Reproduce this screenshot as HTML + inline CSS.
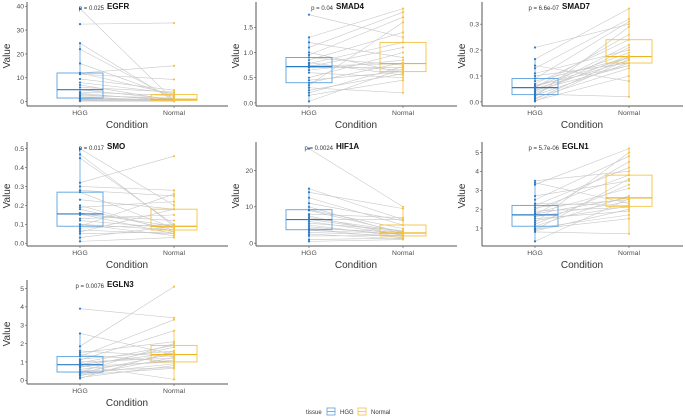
<!DOCTYPE html>
<html><head><meta charset="utf-8">
<style>
html,body{margin:0;padding:0;background:#fff;}
svg{display:block;font-family:"Liberation Sans",sans-serif;}
</style></head>
<body>
<svg id="chart" width="685" height="419" viewBox="0 0 685 419">
<g id="panels"></g>
<g>
  <text x="306" y="414" font-size="6" fill="#333">tissue</text>
  <g>
    <rect x="327" y="408" width="8" height="7" fill="none" stroke="#5aa0dc" stroke-width="0.8"/>
    <line x1="327" y1="411.5" x2="335" y2="411.5" stroke="#5aa0dc" stroke-width="0.8"/>
    <text x="340" y="414" font-size="6" fill="#333">HGG</text>
  </g>
  <g>
    <rect x="358" y="408" width="8" height="7" fill="none" stroke="#f5c242" stroke-width="0.8"/>
    <line x1="358" y1="411.5" x2="366" y2="411.5" stroke="#f5c242" stroke-width="0.8"/>
    <text x="371" y="414" font-size="6" fill="#333">Normal</text>
  </g>
</g>
</svg>
<script>
const genes = ["EGFR","SMAD4","SMAD7","SMO","HIF1A","EGLN1","EGLN3"];
const pvalues = ["p = 0.025","p = 0.04","p = 6.6e-07","p = 0.017","p = 0.0024","p = 5.7e-06","p = 0.0076"];
const categories = ["HGG","Normal"];

const egfrHGG = [39,32.5,24.5,22,16,12,11.5,9.5,8,7,5,4,3.5,3,2.5,2,1.5,1,0.8,0.5,0.3,0.2,12,6,1.2];
const egfrNormal = [0.5,33,0.3,1,2,15,9.3,4.8,3.5,0.5,1,2.5,0.2,0.8,1.5,0.3,0.5,0.2,0.4,1,0.6,0.1,3,4,0.7];
const smad4HGG = [1.75,1.3,1.2,1.1,1.0,0.95,0.9,0.85,0.8,0.78,0.75,0.73,0.72,0.7,0.65,0.6,0.5,0.45,0.4,0.35,0.3,0.25,0.2,0.15,0.03];
const smad4Normal = [1.3,1.87,0.9,1.8,0.6,1.7,0.75,1.4,0.55,1.2,0.65,0.78,1.1,0.7,0.85,0.5,1.0,0.62,0.8,1.6,0.2,0.58,0.72,0.45,0.68];
const smad7HGG = [0.21,0.165,0.14,0.13,0.11,0.10,0.09,0.08,0.07,0.065,0.06,0.058,0.055,0.05,0.045,0.04,0.035,0.03,0.028,0.025,0.02,0.015,0.01,0.005,0.002];
const smad7Normal = [0.3,0.36,0.08,0.32,0.2,0.15,0.31,0.17,0.24,0.14,0.19,0.17,0.26,0.16,0.14,0.22,0.18,0.02,0.21,0.15,0.29,0.13,0.175,0.1,0.165];
const smoHGG = [0.5,0.47,0.45,0.32,0.3,0.28,0.27,0.23,0.2,0.19,0.18,0.16,0.155,0.15,0.13,0.12,0.1,0.1,0.09,0.08,0.07,0.06,0.05,0.03,0.01];
const smoNormal = [0.2,0.09,0.1,0.46,0.28,0.25,0.08,0.18,0.06,0.22,0.07,0.09,0.05,0.12,0.15,0.08,0.04,0.07,0.26,0.1,0.05,0.18,0.06,0.09,0.03];
const hif1aHGG = [26,15,14,12.5,11,10,9.2,9,8,7.5,7,6.6,6.5,6,5.5,5,4.5,4,3.7,3.5,3,2.5,2,1,0.5];
const hif1aNormal = [10,6.5,9.5,5,6.2,2.5,4,3,7,2,3.2,2.8,6.5,2.2,3.5,1.8,2.3,3.1,1.5,2.6,2,1.2,2.1,1.4,1];
const egln1HGG = [3.5,3.4,3.3,2.7,2.5,2.3,2.2,2.1,2,1.9,1.8,1.75,1.7,1.6,1.5,1.4,1.3,1.2,1.1,1,0.95,0.9,0.85,0.8,0.3];
const egln1Normal = [4,2.3,5.2,3.5,4.8,2.2,4.2,2.5,3.8,2.1,3.1,2.6,4.5,2.4,1.9,2.15,5,3.3,2.7,1.7,1.5,3.6,2,0.7,2.55];
const egln3HGG = [3.9,2.55,1.85,1.6,1.5,1.4,1.3,1.15,1.1,1.0,0.95,0.9,0.85,0.8,0.75,0.7,0.6,0.5,0.45,0.4,0.35,0.3,0.25,0.15,0.1];
const egln3Normal = [3.4,1.4,5.1,1.3,2.1,1.0,3.3,1.6,2.7,1.2,1.9,1.35,1.5,0.05,1.0,1.8,1.1,0.7,2.0,1.45,0.9,0.65,1.25,0.8,1.6];

const egfrTicks = ["0","10","20","30","40"];
const smad4Ticks = ["0.0","0.5","1.0","1.5"];
const smad7Ticks = ["0.0","0.1","0.2","0.3"];
const smoTicks = ["0.0","0.1","0.2","0.3","0.4","0.5"];
const hif1aTicks = ["0","10","20"];
const egln1Ticks = ["1","2","3","4","5"];
const egln3Ticks = ["0","1","2","3","4","5"];

const hggSeries = [egfrHGG,smad4HGG,smad7HGG,smoHGG,hif1aHGG,egln1HGG,egln3HGG];
const normalSeries = [egfrNormal,smad4Normal,smad7Normal,smoNormal,hif1aNormal,egln1Normal,egln3Normal];
const tickSets = [egfrTicks,smad4Ticks,smad7Ticks,smoTicks,hif1aTicks,egln1Ticks,egln3Ticks];

const panelX = [0,229,455,0,229,455,0];
const panelY = [0,0,0,140,140,140,278];

const NS = "http://www.w3.org/2000/svg";
const root = document.getElementById("panels");
function mk(tag, attrs, parent){
  const e = document.createElementNS(NS, tag);
  for (const k in attrs) e.setAttribute(k, attrs[k]);
  parent.appendChild(e);
  return e;
}
function quant(arr, q){
  const s = arr.slice().sort((a,b)=>a-b);
  const h = (s.length-1)*q, lo = Math.floor(h), hi = Math.ceil(h);
  return s[lo] + (s[hi]-s[lo])*(h-lo);
}
const blue = "#2b7bc6", blueBox = "#5aa0dc", yellow = "#f5c242", yellowBox = "#f5c242";

genes.forEach((gene, i) => {
  const ox = panelX[i], oy = panelY[i];
  const g = mk("g", {transform:`translate(${ox},${oy})`}, root);
  
  
  const hgg = hggSeries[i], nor = normalSeries[i];
  const all = hgg.concat(nor);
  const mn = Math.min(...all), mx = Math.max(...all);
  const pad = (mx-mn)*0.05;
  const d0 = mn - pad, d1 = mx + pad;
  const top = 4, bot = 106;
  const yS = v => bot - (v - d0)/(d1 - d0)*(bot - top);
  const xS = c => c === 0 ? 80 : 174;
  const axX = 27, axR = 228;

  const lines = mk("g", {}, g);
  
  
  hgg.forEach((v, k) => {
    const l = mk("line", {x1:xS(0), y1:yS(v), x2:xS(1), y2:yS(nor[k]), stroke:"#c8c8c8", "stroke-width":0.6}, lines);
    
    
  });

  [hgg, nor].forEach((arr, c) => {
    const col = c === 0 ? blueBox : yellowBox;
    const q1 = quant(arr,0.25), md = quant(arr,0.5), q3 = quant(arr,0.75), iqr = q3-q1;
    const lo = Math.min(...arr.filter(v => v >= q1-1.5*iqr));
    const hi = Math.max(...arr.filter(v => v <= q3+1.5*iqr));
    const bx = mk("g", {}, g);
    
    
    const x = xS(c);
    mk("line", {x1:x, y1:yS(hi), x2:x, y2:yS(q3), stroke:col, "stroke-width":0.8}, bx);
    mk("line", {x1:x, y1:yS(q1), x2:x, y2:yS(lo), stroke:col, "stroke-width":0.8}, bx);
    mk("rect", {x:x-23, y:yS(q3), width:46, height:yS(q1)-yS(q3), fill:"none", stroke:col, "stroke-width":0.9}, bx);
    mk("line", {x1:x-23, y1:yS(md), x2:x+23, y2:yS(md), stroke:c===0?blue:"#eeb520", "stroke-width":1.2}, bx);
  });

  [hgg, nor].forEach((arr, c) => {
    const pts = mk("g", {}, g);
    
    
    arr.forEach(v => {
      const p = mk("circle", {cx:xS(c), cy:yS(v), r:1.1, fill:c===0?blue:yellow}, pts);
      
      
    });
  });

  const yAxis = mk("line", {x1:axX, y1:top-2, x2:axX, y2:bot, stroke:"#555", "stroke-width":1}, g);
  
  
  const xAxis = mk("line", {x1:axX, y1:bot, x2:axR, y2:bot, stroke:"#555", "stroke-width":1}, g);
  
  

  tickSets[i].forEach(t => {
    const y = yS(parseFloat(t));
    mk("line", {x1:axX-2, y1:y, x2:axX, y2:y, stroke:"#555", "stroke-width":0.6}, g);
    const tx = mk("text", {x:axX-3, y:y+2.4, "font-size":6.8, fill:"#4d4d4d", "text-anchor":"end"}, g);
    tx.textContent = t;
    
    
  });
  categories.forEach((c, k) => {
    mk("line", {x1:xS(k), y1:bot, x2:xS(k), y2:bot+2, stroke:"#555", "stroke-width":0.6}, g);
    const tx = mk("text", {x:xS(k), y:bot+9, "font-size":6.8, fill:"#4d4d4d", "text-anchor":"middle"}, g);
    tx.textContent = c;
    
    
  });

  const xt = mk("text", {x:127, y:128, "font-size":10, fill:"#333", "text-anchor":"middle"}, g);
  xt.textContent = "Condition";
  
  
  const yt = mk("text", {x:0, y:0, "font-size":10, fill:"#333", "text-anchor":"middle", transform:"translate(10,56) rotate(-90)"}, g);
  yt.textContent = "Value";
  
  

  const pt = mk("text", {x:xS(0)+24, y:10, "font-size":6, fill:"#333", "text-anchor":"end"}, g);
  pt.textContent = pvalues[i];
  
  
  const tt = mk("text", {x:xS(0)+27, y:9, "font-size":8, "font-weight":"bold", fill:"#111"}, g);
  tt.textContent = gene;
  
  
});
</script>
</body></html>
